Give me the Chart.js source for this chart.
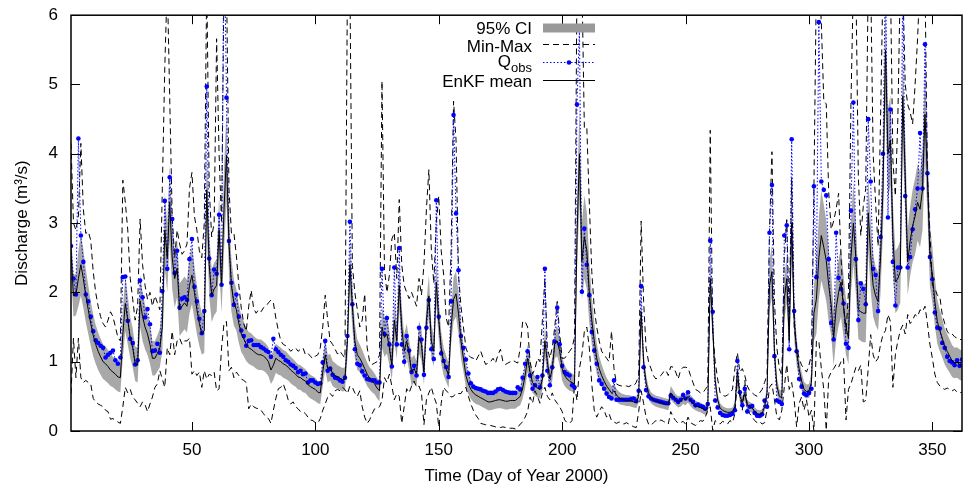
<!DOCTYPE html>
<html>
<head>
<meta charset="utf-8">
<script src="https://cdn.jsdelivr.net/npm/chart.js@4.4.1/dist/chart.umd.min.js"></script>
<style>
  html, body { margin: 0; padding: 0; background: #fff; }
  #wrap { width: 966px; height: 487px; }
</style>
</head>
<body>
<div id="wrap"><canvas id="enkfChart" width="966" height="487"></canvas></div>
<script>
// Tick labels
var xTicks = [50, 100, 150, 200, 250, 300, 350];
var yTicks = [0, 1, 2, 3, 4, 5, 6];

// Observed discharge (m3/s), one value per day from day 1
var qObs = [
  2.67,2.20,1.97,4.22,2.82,2.44,1.97,1.87,1.65,1.44,
  1.31,1.27,1.23,1.20,1.06,1.10,1.13,1.16,1.02,0.97,
  1.06,2.22,2.23,1.59,1.33,1.27,0.96,1.02,2.17,1.93,
  1.64,1.76,1.54,1.15,1.16,1.26,1.13,2.02,3.32,2.34,
  3.66,3.06,2.28,2.60,1.78,1.91,1.93,1.89,2.48,2.77,
  2.08,1.87,1.62,1.41,1.73,4.97,2.49,1.96,2.33,2.27,
  3.12,2.11,7.50,4.81,2.74,2.14,1.82,1.97,1.65,1.45,
  1.37,1.23,1.30,1.31,1.24,1.24,1.24,1.21,1.19,1.16,
  1.14,1.07,1.33,1.18,1.14,1.10,1.07,1.02,1.00,0.96,
  0.94,0.91,0.85,0.87,0.82,0.83,0.70,0.73,0.73,0.70,
  0.68,0.69,0.99,1.30,0.87,0.90,0.81,0.77,0.76,0.73,
  0.71,0.77,1.37,3.02,1.83,1.18,0.97,0.95,0.86,0.80,
  0.75,0.74,0.73,0.73,0.70,0.70,2.34,1.40,1.63,1.25,
  0.93,2.36,1.25,2.64,1.25,1.00,1.37,1.16,0.85,0.94,
  0.80,1.49,1.32,0.81,1.49,1.89,1.18,1.04,3.33,1.65,
  1.12,1.01,0.92,0.78,1.87,4.56,3.14,2.32,1.37,1.20,
  1.03,0.83,0.69,0.64,0.62,0.61,0.60,0.58,0.57,0.55,
  0.55,0.55,0.57,0.60,0.61,0.59,0.57,0.56,0.55,0.55,
  0.55,0.63,0.60,0.77,0.97,1.15,0.80,0.61,0.66,0.78,
  0.63,0.80,2.34,0.87,0.66,0.92,1.29,1.78,1.25,0.94,
  0.85,0.82,0.80,0.66,0.63,4.71,5.81,2.01,2.92,2.40,
  1.96,1.43,1.16,0.97,0.73,0.68,0.61,0.54,0.49,0.47,
  0.73,0.45,0.45,0.45,0.45,0.45,0.45,0.46,0.47,0.43,
  0.58,2.09,0.92,0.59,0.50,0.47,0.45,0.44,0.43,0.42,
  0.41,0.40,0.40,0.51,0.48,0.45,0.42,0.45,0.52,0.47,
  0.56,0.45,0.42,0.37,0.38,0.36,0.35,0.32,0.39,2.75,
  1.72,0.44,0.34,0.26,0.23,0.22,0.22,0.23,0.25,0.30,
  1.01,0.56,0.37,0.61,0.28,0.35,0.36,0.26,0.22,0.22,
  0.24,0.44,0.35,2.86,3.55,1.08,0.44,0.42,0.39,2.82,
  2.97,1.18,4.21,1.73,1.15,0.75,0.64,0.54,0.52,0.55,
  0.61,3.53,2.22,5.90,3.60,3.48,3.40,2.48,1.56,1.32,
  2.86,2.21,2.05,1.84,1.26,1.20,3.18,4.74,2.48,1.60,
  2.13,2.05,1.83,4.50,3.60,2.34,2.25,1.73,2.80,4.00,
  6.80,3.08,4.64,2.44,1.81,2.36,2.36,6.50,3.39,2.36,
  2.51,2.91,3.20,3.50,4.30,3.50,5.58,3.72,2.51,2.19,
  1.71,1.49,1.48,1.27,1.20,1.07,1.01,0.99,0.95,1.02,
  0.94,1.03
];

// EnKF ensemble mean
var enkfMean = [
  2.60,1.95,1.97,2.20,2.40,2.20,1.95,1.75,1.55,1.38,
  1.25,1.15,1.07,1.00,0.97,0.93,0.88,0.85,0.82,0.78,
  0.77,1.40,1.84,1.60,1.35,1.20,0.97,0.95,1.88,1.65,
  1.50,1.40,1.25,1.05,1.05,1.12,1.20,1.50,2.90,2.50,
  3.30,2.50,2.20,2.35,1.75,1.80,1.85,1.80,2.10,2.25,
  2.00,1.75,1.55,1.40,1.45,3.48,2.40,1.95,2.05,2.10,
  2.90,2.10,3.20,3.98,2.70,2.10,1.85,1.75,1.55,1.40,
  1.33,1.25,1.20,1.18,1.15,1.12,1.10,1.10,1.08,1.05,
  1.00,0.88,0.95,1.05,1.02,1.00,0.97,0.95,0.92,0.88,
  0.85,0.82,0.78,0.77,0.74,0.72,0.67,0.64,0.62,0.60,
  0.56,0.55,0.85,1.10,0.90,0.92,0.83,0.80,0.78,0.76,
  0.74,0.75,1.30,2.40,1.80,1.30,1.10,1.05,0.98,0.90,
  0.82,0.76,0.72,0.68,0.62,0.58,1.50,1.35,1.40,1.20,
  0.95,1.60,1.30,2.10,1.50,1.15,1.30,1.10,0.85,0.90,
  0.82,1.35,1.25,0.85,1.60,1.95,1.30,1.15,2.15,1.60,
  1.20,1.00,0.90,0.80,1.50,1.90,1.98,1.70,1.30,1.05,
  0.80,0.68,0.60,0.55,0.52,0.50,0.48,0.46,0.44,0.42,
  0.42,0.43,0.44,0.45,0.45,0.44,0.43,0.43,0.44,0.44,
  0.44,0.47,0.50,0.62,0.80,1.05,0.85,0.70,0.65,0.62,
  0.60,0.75,1.30,1.00,0.75,0.90,1.25,1.30,1.15,0.90,
  0.80,0.75,0.72,0.70,0.68,2.80,4.00,2.45,2.80,2.60,
  2.00,1.60,1.30,1.05,0.90,0.80,0.72,0.65,0.60,0.55,
  0.58,0.52,0.48,0.46,0.45,0.44,0.44,0.43,0.42,0.41,
  0.50,1.72,1.00,0.70,0.55,0.48,0.45,0.43,0.42,0.41,
  0.40,0.39,0.38,0.55,0.50,0.45,0.42,0.43,0.48,0.45,
  0.50,0.44,0.40,0.37,0.35,0.34,0.32,0.30,0.32,2.20,
  1.50,0.73,0.45,0.33,0.30,0.28,0.27,0.27,0.28,0.35,
  0.87,0.50,0.42,0.54,0.38,0.35,0.33,0.28,0.25,0.24,
  0.25,0.35,0.55,2.10,2.30,1.15,0.65,0.50,0.48,1.90,
  2.20,1.30,3.00,1.60,1.15,0.90,0.72,0.60,0.57,0.58,
  0.70,1.70,1.90,2.50,2.82,2.65,2.46,2.10,1.82,1.34,
  1.77,2.00,2.15,1.80,1.50,1.34,2.50,3.00,2.50,1.75,
  1.72,1.70,1.70,3.15,2.53,2.10,1.95,1.87,2.50,3.50,
  5.50,4.00,4.20,2.80,2.15,2.20,2.30,4.83,3.67,2.44,
  2.74,2.96,3.10,3.30,3.20,3.48,4.57,3.67,2.53,2.25,
  1.87,1.58,1.45,1.34,1.22,1.15,1.08,1.01,0.98,0.99,
  0.96,0.94
];

// Half width of the 95% confidence band around the mean
var ciHalf = [
  0.30,0.30,0.30,0.40,0.45,0.42,0.38,0.35,0.32,0.30,
  0.28,0.27,0.26,0.25,0.25,0.24,0.23,0.22,0.22,0.21,
  0.21,0.35,0.40,0.35,0.30,0.28,0.25,0.25,0.38,0.35,
  0.32,0.30,0.28,0.25,0.25,0.26,0.28,0.35,0.55,0.50,
  0.55,0.45,0.42,0.42,0.38,0.38,0.38,0.38,0.40,0.42,
  0.38,0.35,0.32,0.30,0.32,0.60,0.45,0.38,0.38,0.38,
  0.50,0.40,0.60,0.65,0.45,0.38,0.33,0.30,0.28,0.26,
  0.25,0.24,0.23,0.23,0.22,0.22,0.22,0.22,0.21,0.21,
  0.21,0.20,0.21,0.21,0.21,0.20,0.20,0.20,0.19,0.19,
  0.19,0.18,0.18,0.18,0.18,0.17,0.17,0.17,0.17,0.17,
  0.16,0.16,0.20,0.22,0.20,0.19,0.18,0.18,0.17,0.17,
  0.17,0.17,0.25,0.40,0.32,0.25,0.22,0.20,0.19,0.18,
  0.17,0.16,0.16,0.15,0.15,0.15,0.30,0.28,0.28,0.25,
  0.22,0.30,0.26,0.35,0.28,0.24,0.25,0.22,0.20,0.20,
  0.19,0.24,0.23,0.19,0.27,0.30,0.25,0.22,0.33,0.28,
  0.23,0.20,0.19,0.18,0.25,0.32,0.33,0.30,0.25,0.20,
  0.17,0.15,0.14,0.13,0.13,0.12,0.12,0.12,0.12,0.12,
  0.12,0.12,0.12,0.12,0.12,0.12,0.12,0.12,0.12,0.12,
  0.12,0.12,0.13,0.15,0.18,0.20,0.17,0.15,0.14,0.14,
  0.13,0.15,0.22,0.18,0.15,0.17,0.20,0.22,0.20,0.17,
  0.15,0.14,0.14,0.13,0.13,0.50,0.70,0.55,0.60,0.55,
  0.45,0.35,0.28,0.22,0.18,0.16,0.14,0.12,0.11,0.10,
  0.10,0.09,0.09,0.08,0.08,0.08,0.08,0.08,0.08,0.08,
  0.09,0.25,0.15,0.11,0.09,0.08,0.08,0.08,0.08,0.08,
  0.08,0.08,0.08,0.10,0.09,0.08,0.08,0.08,0.09,0.08,
  0.09,0.08,0.08,0.07,0.07,0.07,0.07,0.07,0.07,0.30,
  0.22,0.12,0.08,0.07,0.06,0.06,0.06,0.06,0.06,0.07,
  0.15,0.09,0.08,0.10,0.07,0.07,0.07,0.06,0.06,0.06,
  0.06,0.07,0.10,0.35,0.38,0.20,0.12,0.10,0.10,0.30,
  0.35,0.22,0.45,0.28,0.20,0.15,0.13,0.11,0.10,0.10,
  0.15,0.40,0.50,0.60,0.65,0.62,0.58,0.52,0.45,0.40,
  0.45,0.48,0.50,0.45,0.40,0.38,0.50,0.60,0.52,0.42,
  0.42,0.42,0.42,0.55,0.50,0.45,0.42,0.42,0.50,0.60,
  0.75,0.65,0.65,0.50,0.45,0.45,0.45,0.65,0.58,0.48,
  0.50,0.52,0.55,0.55,0.55,0.58,0.65,0.55,0.45,0.40,
  0.35,0.32,0.30,0.28,0.26,0.25,0.24,0.23,0.22,0.22,
  0.22,0.22
];

// Ensemble maximum
var ensMax = [
  4.15,3.00,2.90,3.10,4.15,3.20,2.85,2.88,2.75,2.30,
  2.00,1.80,1.65,1.55,1.50,1.60,1.72,1.65,1.50,1.35,
  1.30,3.62,3.30,2.90,2.20,1.90,1.60,1.80,3.06,2.40,
  2.10,1.90,2.00,1.80,1.95,1.85,1.75,3.50,5.24,6.50,
  4.80,3.10,2.50,2.90,2.70,2.55,2.60,2.70,3.50,3.73,
  3.10,2.90,2.60,2.50,3.00,6.50,3.50,2.80,3.00,5.66,
  4.00,3.00,6.50,6.50,3.50,2.85,2.86,2.53,2.10,1.77,
  1.55,1.44,1.80,2.03,1.77,1.70,1.75,1.72,1.78,1.80,
  1.85,1.89,1.85,1.63,1.45,1.30,1.25,1.23,1.20,1.15,
  1.18,1.20,1.15,1.18,1.20,1.10,1.12,1.08,1.04,1.08,
  1.10,1.20,1.50,1.96,1.60,1.30,1.25,1.18,1.11,1.15,
  1.10,1.05,6.50,6.50,2.39,2.00,1.75,1.50,1.60,1.98,
  1.20,1.00,0.96,0.98,1.00,1.10,5.05,2.34,2.00,2.25,
  2.77,2.86,2.20,3.34,2.40,2.10,2.00,1.91,2.00,1.90,
  1.80,2.20,1.96,2.40,3.20,3.77,2.60,2.13,3.00,3.39,
  2.60,2.25,1.63,1.50,2.60,4.76,4.20,2.25,1.80,1.50,
  1.20,1.10,1.06,1.05,1.01,1.08,1.15,1.05,0.96,0.98,
  1.00,1.05,0.98,1.10,1.18,1.00,0.96,0.98,1.00,1.02,
  1.00,0.98,1.20,1.58,1.58,1.50,1.00,0.82,0.90,1.05,
  1.00,1.60,2.20,1.20,1.05,1.20,1.50,1.87,1.40,1.05,
  1.05,1.10,1.15,1.20,1.35,6.50,6.50,6.50,4.36,4.37,
  3.29,2.30,1.77,1.50,1.30,1.15,1.10,1.05,1.00,1.44,
  0.90,0.68,0.66,0.65,0.66,0.65,0.64,0.66,0.65,0.70,
  0.80,3.03,1.87,1.20,1.00,0.90,0.80,0.75,0.78,0.80,
  0.85,0.88,0.80,0.93,0.92,0.85,0.75,0.88,0.92,0.92,
  0.91,0.80,0.70,0.60,0.58,0.55,0.55,0.60,0.65,4.34,
  1.44,1.00,0.75,0.55,0.52,0.50,0.52,0.55,0.60,0.90,
  1.13,0.85,0.90,0.80,0.65,0.58,0.55,0.52,0.50,0.55,
  0.60,0.70,0.80,2.90,4.03,1.87,1.20,0.90,0.80,2.50,
  3.05,1.60,3.65,1.51,1.20,1.05,0.95,0.90,0.85,0.95,
  1.10,3.50,6.50,6.50,5.90,4.76,4.72,3.44,2.91,3.03,
  3.20,3.43,2.50,1.80,1.40,2.00,4.71,6.50,6.50,3.67,
  2.82,3.24,3.50,6.50,6.50,4.00,3.29,2.67,4.50,6.50,
  6.50,6.50,6.50,3.90,3.39,4.50,6.50,6.50,5.00,4.71,
  4.60,4.43,5.00,5.66,6.50,6.50,6.50,3.67,2.86,2.10,
  2.06,1.96,1.94,1.68,1.55,1.44,1.39,1.40,1.36,1.34,
  1.32,1.32
];

// Ensemble minimum
var ensMin = [
  0.54,1.34,0.77,1.34,0.77,0.70,0.73,0.70,0.68,0.47,
  0.42,0.39,0.37,0.35,0.30,0.28,0.17,0.18,0.15,0.13,
  0.11,0.35,0.63,0.55,0.60,0.49,0.45,0.40,0.35,0.42,
  0.38,0.28,0.39,0.49,0.63,0.68,0.87,0.75,0.63,1.20,
  1.10,1.44,1.10,1.30,1.34,1.25,1.30,1.30,1.34,0.82,
  0.87,0.80,0.85,0.63,0.87,0.75,0.82,0.80,0.85,0.58,
  0.61,1.20,1.56,1.58,0.87,0.92,0.77,0.85,0.80,0.75,
  0.73,0.70,0.32,0.39,0.35,0.33,0.32,0.30,0.25,0.20,
  0.18,0.11,0.30,0.47,0.61,0.63,0.68,0.58,0.45,0.39,
  0.42,0.35,0.32,0.28,0.28,0.25,0.20,0.16,0.15,0.12,
  0.11,0.18,0.30,0.39,0.49,0.54,0.50,0.58,0.60,0.58,
  0.63,0.60,0.54,0.65,0.63,0.55,0.50,0.58,0.35,0.20,
  0.11,0.16,0.25,0.32,0.32,0.35,0.44,0.77,0.70,0.82,
  0.65,0.45,0.54,0.50,0.11,0.35,0.61,0.55,0.65,0.72,
  0.63,0.65,0.55,0.09,0.45,0.55,0.63,0.50,0.40,0.06,
  0.40,0.63,0.58,0.55,0.49,0.50,0.55,0.54,0.54,0.60,
  0.63,0.50,0.39,0.30,0.23,0.18,0.11,0.10,0.09,0.09,
  0.08,0.07,0.06,0.06,0.05,0.06,0.05,0.04,0.04,0.04,
  0.03,0.05,0.10,0.13,0.20,0.28,0.49,0.40,0.58,0.50,
  0.40,0.55,0.63,0.50,0.45,0.55,0.45,0.40,0.35,0.28,
  0.16,0.12,0.11,0.15,0.68,0.44,0.90,1.10,1.44,1.50,
  1.20,0.68,0.30,0.20,0.28,0.35,0.30,0.20,0.25,0.15,
  0.13,0.11,0.13,0.12,0.10,0.12,0.10,0.08,0.06,0.05,
  0.28,0.58,0.40,0.20,0.10,0.08,0.12,0.15,0.13,0.16,
  0.14,0.12,0.10,0.28,0.20,0.15,0.11,0.12,0.14,0.10,
  0.20,0.12,0.10,0.08,0.12,0.15,0.14,0.20,0.30,0.35,
  0.01,0.15,0.12,0.10,0.14,0.12,0.10,0.15,0.12,0.25,
  0.73,0.55,0.30,0.73,0.35,0.25,0.20,0.15,0.12,0.14,
  0.10,0.12,0.30,0.63,0.68,0.45,0.20,0.16,0.30,0.63,
  0.96,0.60,0.70,0.45,0.06,0.40,0.49,0.30,0.45,0.20,
  0.30,0.00,1.30,1.30,0.90,0.60,0.01,0.77,0.85,0.90,
  0.96,0.92,1.00,1.05,0.16,0.60,0.68,0.80,0.92,0.87,
  0.95,0.42,0.44,0.90,1.39,1.10,1.00,1.05,1.25,1.39,
  1.45,1.68,1.58,0.63,1.10,1.30,1.45,1.53,1.40,1.68,
  1.55,1.60,1.68,1.65,1.75,1.72,1.80,1.55,1.25,1.05,
  0.82,0.70,0.65,0.62,0.60,0.62,0.60,0.58,0.60,0.56,
  0.55,0.56
];

var FONT = "'Liberation Sans', Arial, Helvetica, sans-serif";

// Days of year, one per value
var days = qObs.map(function (v, i) { return i + 1; });

function toPoints(values) {
  return values.map(function (v, i) { return { x: days[i], y: v }; });
}
var ciLow = enkfMean.map(function (m, i) { return m - ciHalf[i]; });
var ciHigh = enkfMean.map(function (m, i) { return m + ciHalf[i]; });

// Frame, inward ticks (gnuplot style) and the key
var frameAndKey = {
  id: 'frameAndKey',
  afterDatasetsDraw: function (chart) {
    var ctx = chart.ctx, a = chart.chartArea;
    var xs = chart.scales.x, ys = chart.scales.y;
    ctx.save();
    ctx.strokeStyle = '#000';
    ctx.lineWidth = 1;
    ctx.beginPath();
    yTicks.forEach(function (v) {
      var y = Math.round(ys.getPixelForValue(v)) + 0.5;
      ctx.moveTo(a.left, y); ctx.lineTo(a.left + 9, y);
      ctx.moveTo(a.right, y); ctx.lineTo(a.right - 9, y);
    });
    xTicks.forEach(function (v) {
      var x = Math.round(xs.getPixelForValue(v)) + 0.5;
      ctx.moveTo(x, a.bottom); ctx.lineTo(x, a.bottom - 9);
      ctx.moveTo(x, a.top); ctx.lineTo(x, a.top + 9);
    });
    ctx.stroke();
    ctx.lineWidth = 1.5;
    ctx.strokeRect(a.left, a.top, a.right - a.left, a.bottom - a.top);

    // key
    var tx = 532, s0 = 543, s1 = 595;
    ctx.fillStyle = '#000';
    ctx.font = '17px ' + FONT;
    ctx.textAlign = 'right';
    ctx.textBaseline = 'middle';
    ctx.fillText('95% CI', tx, 29);
    ctx.fillText('Min-Max', tx, 47);
    ctx.font = '13px ' + FONT;
    var wSub = ctx.measureText('obs').width;
    ctx.fillText('obs', tx, 68);
    ctx.font = '17px ' + FONT;
    ctx.fillText('Q', tx - wSub, 62);
    ctx.fillText('EnKF mean', tx, 82);

    ctx.fillStyle = '#999999';
    ctx.fillRect(s0, 23.5, s1 - s0, 9);

    ctx.lineWidth = 1;
    ctx.strokeStyle = '#000';
    ctx.setLineDash([6, 4]);
    ctx.beginPath(); ctx.moveTo(s0, 44.5); ctx.lineTo(s1, 44.5); ctx.stroke();

    ctx.strokeStyle = '#0000ff';
    ctx.setLineDash([1.5, 2]);
    ctx.beginPath(); ctx.moveTo(s0, 62.5); ctx.lineTo(s1, 62.5); ctx.stroke();
    ctx.setLineDash([]);
    ctx.fillStyle = '#0000ff';
    ctx.beginPath(); ctx.arc(569, 62.5, 2.3, 0, Math.PI * 2); ctx.fill();

    ctx.strokeStyle = '#000';
    ctx.beginPath(); ctx.moveTo(s0, 80.5); ctx.lineTo(s1, 80.5); ctx.stroke();
    ctx.restore();
  }
};

Chart.defaults.font.family = FONT;
Chart.defaults.font.size = 17;
Chart.defaults.color = '#000';

var ctx = document.getElementById('enkfChart').getContext('2d');
var enkfChart = new Chart(ctx, {
  type: 'line',
  data: {
    datasets: [{
      label: 'EnKF mean',
      data: toPoints(enkfMean),
      borderColor: '#000',
      borderWidth: 1,
      pointRadius: 0,
      order: 0
    }, {
      label: 'Qobs',
      data: toPoints(qObs),
      borderColor: '#0000ff',
      borderWidth: 1,
      borderDash: [1.5, 2],
      pointRadius: 2.3,
      pointBorderWidth: 0,
      pointBackgroundColor: '#0000ff',
      order: 1
    }, {
      label: 'Max',
      data: toPoints(ensMax),
      borderColor: '#000',
      borderWidth: 1,
      borderDash: [6, 4],
      pointRadius: 0,
      order: 2
    }, {
      label: 'Min',
      data: toPoints(ensMin),
      borderColor: '#000',
      borderWidth: 1,
      borderDash: [6, 4],
      pointRadius: 0,
      order: 2
    }, {
      label: 'CI low',
      data: toPoints(ciLow),
      borderWidth: 0,
      borderColor: 'rgba(0,0,0,0)',
      pointRadius: 0,
      order: 4
    }, {
      label: '95% CI',
      data: toPoints(ciHigh),
      borderWidth: 0,
      borderColor: 'rgba(0,0,0,0)',
      backgroundColor: '#a8a8a8',
      fill: '-1',
      pointRadius: 0,
      order: 3
    }]
  },
  options: {
    responsive: false,
    devicePixelRatio: 1,
    animation: false,
    layout: { padding: { top: 10, right: 2, left: 0, bottom: 0 } },
    plugins: {
      legend: { display: false },
      tooltip: { enabled: false }
    },
    elements: { line: { tension: 0 } },
    scales: {
      x: {
        type: 'linear',
        min: 1,
        max: 362,
        grid: { display: false },
        border: { display: false },
        afterFit: function (s) { s.height = 56; },
        afterBuildTicks: function (s) {
          s.ticks = xTicks.map(function (v) { return { value: v }; });
        },
        ticks: { padding: 1, maxRotation: 0 },
        title: {
          display: true,
          text: 'Time (Day of Year 2000)',
          padding: { top: 0, bottom: 0 }
        }
      },
      y: {
        min: 0,
        max: 6,
        grid: { display: false },
        border: { display: false },
        afterFit: function (s) { s.width = 71; },
        afterBuildTicks: function (s) {
          s.ticks = yTicks.map(function (v) { return { value: v }; });
        },
        ticks: { padding: 5 },
        title: {
          display: true,
          text: 'Discharge (m\u00b3/s)',
          padding: { top: 12, bottom: 0 }
        }
      }
    }
  },
  plugins: [frameAndKey]
});
</script>
</body>
</html>
